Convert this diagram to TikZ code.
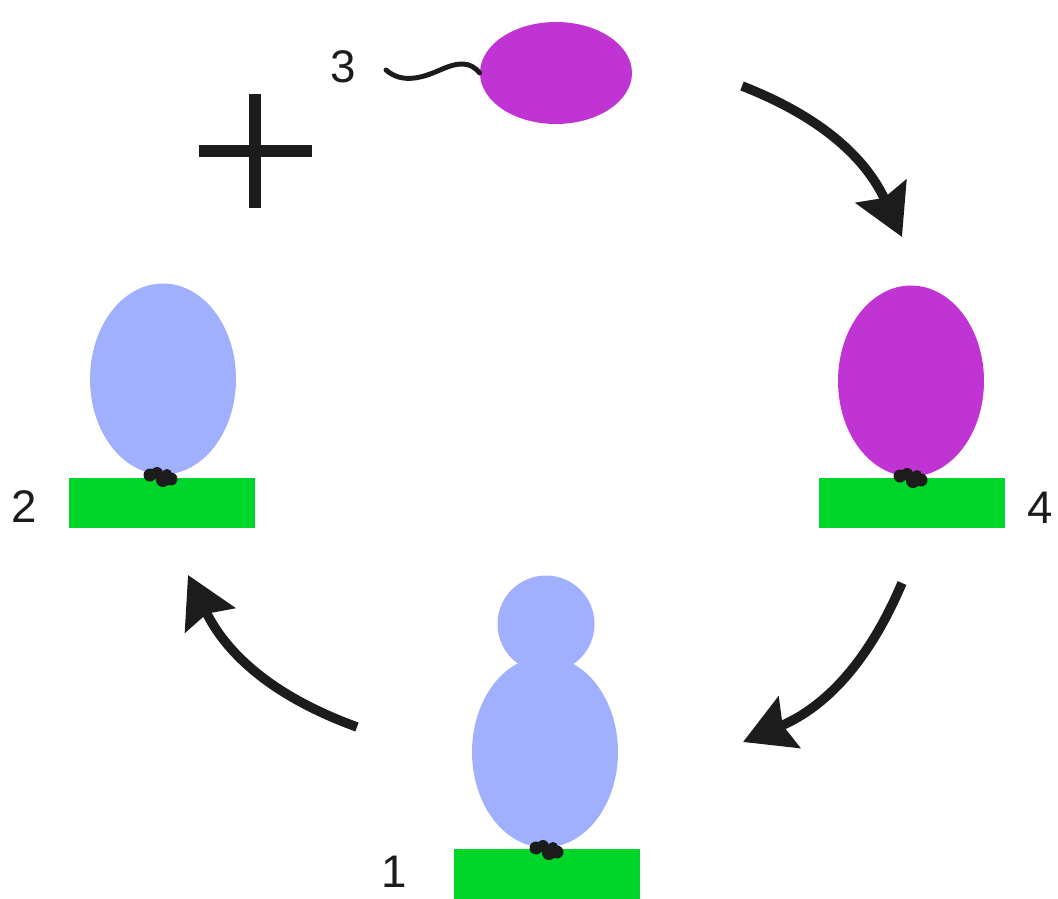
\documentclass[tikz,border=0pt]{standalone}
\usepackage{fontspec}
\setmainfont{Liberation Sans}
\usetikzlibrary{shapes.geometric,arrows.meta}
\definecolor{membrane}{RGB}{0,214,41}
\definecolor{protein}{RGB}{160,176,255}
\definecolor{ligand}{RGB}{193,52,212}
\definecolor{ink}{RGB}{28,28,28}
\tikzset{
  base/.style={fill=membrane, draw=none, rectangle, inner sep=0pt, minimum width=3.74cm, minimum height=1.0cm},
  blob/.style={ellipse, draw=none, inner sep=0pt, minimum width=2.92cm, minimum height=3.82cm},
  num/.style={font=\fontsize{26}{31}\selectfont, text=ink, inner sep=0pt},
  cyclearrow/.style={draw=ink, line width=5.4pt, -{Stealth[length=1.0cm, width=1.1cm, inset=0.14cm]}},
  knot/.pic={
    \fill[ink] (-10,-2) circle (6.5);
    \fill[ink] (-3,-4) circle (6);
    \fill[ink] (3,3) circle (7);
    \fill[ink] (11,2) circle (6.5);
    \fill[ink] (7,-3) circle (5);
  }
}
\begin{document}
\begin{tikzpicture}[x=0.02cm, y=-0.02cm]
\useasboundingbox (0,0) rectangle (1058,899);

% state 1: receptor with bound partner
\node[base] (base1) at (547,874) {};
\node[blob, fill=protein] (body1) at (545,752) {};
\node[circle, fill=protein, inner sep=0pt, minimum size=1.94cm] (head1) at (546,624) {};
\pic at (546,850) {knot};
\node[num] (lab1) at (394,872) {1};

% state 2: free receptor
\node[base] (base2) at (162,503) {};
\node[blob, fill=protein] (body2) at (163,379) {};
\pic at (160,477) {knot};
\node[num] (lab2) at (24,507) {2};

% state 3: incoming ligand with tail
\node[ellipse, fill=ligand, inner sep=0pt, minimum width=3.04cm, minimum height=2.04cm] (lig) at (556,73) {};
\coordinate (tailend) at (386,70);
\draw[ink, line width=2.8pt, line cap=round]
  (tailend) .. controls (402,84) and (422,78) .. (440,70)
  .. controls (458,62) and (470,61) .. (lig.west);
\node[num] (lab3) at (343,67) {3};

% plus sign
\draw[ink, line width=6.5pt] (199,151) -- (312,151) (255,94) -- (255,208);

% state 4: ligand bound to membrane
\node[base] (base4) at (912,503) {};
\node[blob, fill=ligand] (body4) at (911,381) {};
\pic at (910,478) {knot};
\node[num] (lab4) at (1040,508) {4};

% cycle arrows
\coordinate (a1s) at (742,86);
\coordinate (a1e) at (902,237);
\coordinate (a2s) at (902,583);
\coordinate (a2e) at (743,742);
\coordinate (a3s) at (357,727);
\coordinate (a3e) at (188,575);
\draw[cyclearrow] (a1s) to[bend left=22] (a1e);
\draw[cyclearrow] (a2s) to[bend left=22] (a2e);
\draw[cyclearrow] (a3s) to[bend left=22] (a3e);
\end{tikzpicture}
\end{document}
